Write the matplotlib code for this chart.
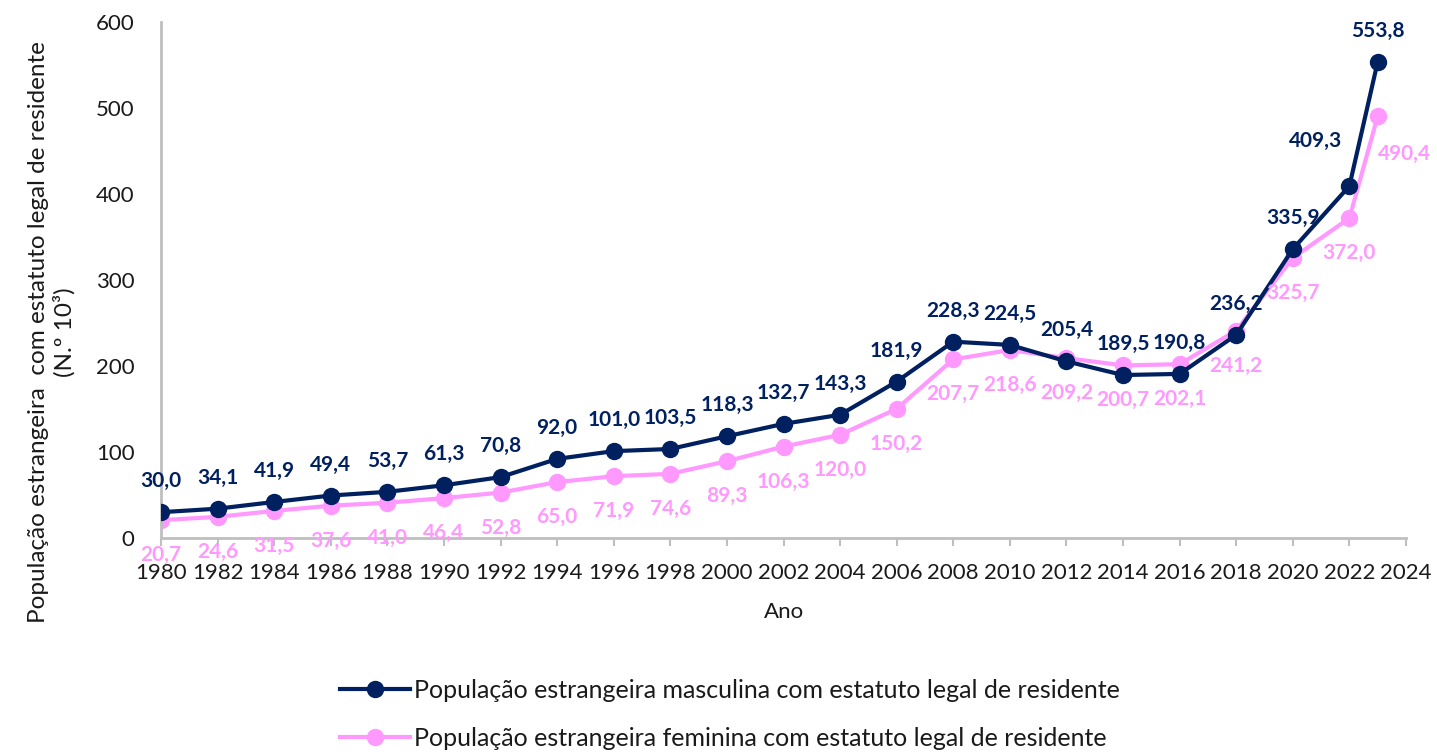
import matplotlib
matplotlib.use("Agg")
import matplotlib.pyplot as plt

# data (thousands)
years = [1980, 1982, 1984, 1986, 1988, 1990, 1992, 1994, 1996, 1998, 2000, 2002,
         2004, 2006, 2008, 2010, 2012, 2014, 2016, 2018, 2020, 2022, 2023]
male = [30.0, 34.1, 41.9, 49.4, 53.7, 61.3, 70.8, 92.0, 101.0, 103.5, 118.3, 132.7,
        143.3, 181.9, 228.3, 224.5, 205.4, 189.5, 190.8, 236.2, 335.9, 409.3, 553.8]
female = [20.7, 24.6, 31.5, 37.6, 41.0, 46.4, 52.8, 65.0, 71.9, 74.6, 89.3, 106.3,
          120.0, 150.2, 207.7, 218.6, 209.2, 200.7, 202.1, 241.2, 325.7, 372.0, 490.4]
x_ticks = list(range(1980, 2025, 2))
y_ticks = [0, 100, 200, 300, 400, 500, 600]

male_name = "População estrangeira masculina com estatuto legal de residente"
female_name = "População estrangeira feminina com estatuto legal de residente"

NAVY = "#002060"
PINK = "#FF99FF"
GREY = "#BFBFBF"
TXT = "#1a1a1a"
FONT = "Lato"

# label offsets in pixels (dx, dy), default above for male / below for female
male_off = {21: (-34, 45)}
female_off = {22: (27, -38)}


def fmt(v):
    return f"{v:.1f}".replace(".", ",")


fig = plt.figure(figsize=(14.37, 7.54), dpi=100)
ax = fig.add_axes([161 / 1437, 1 - 538 / 754, (1406 - 161) / 1437, (538 - 22) / 754])

ax.plot(years, female, color=PINK, lw=3, marker="o", ms=11.5, zorder=2, label=female_name)
ax.plot(years, male, color=NAVY, lw=3, marker="o", ms=11.5, zorder=3, label=male_name)

for i, (yr, v) in enumerate(zip(years, male)):
    dx, dy = male_off.get(i, (0, 31))
    ax.annotate(fmt(v), (yr, v), xytext=(dx, dy), textcoords="offset pixels",
                ha="center", va="center", fontsize=15, fontweight="bold",
                family=FONT, color=NAVY, zorder=5)
for i, (yr, v) in enumerate(zip(years, female)):
    dx, dy = female_off.get(i, (0, -35))
    ax.annotate(fmt(v), (yr, v), xytext=(dx, dy), textcoords="offset pixels",
                ha="center", va="center", fontsize=15, fontweight="bold",
                family=FONT, color=PINK, zorder=4)

ax.set_xlim(1980, 2024)
ax.set_ylim(0, 600)
ax.set_xticks(x_ticks)
ax.set_yticks(y_ticks)
ax.set_xticklabels([str(t) for t in x_ticks], family=FONT, fontsize=16, color=TXT)
ax.set_yticklabels([str(t) for t in y_ticks], family=FONT, fontsize=16, color=TXT)
ax.tick_params(axis="x", direction="out", length=6, width=1.5, color=GREY, pad=12)
ax.tick_params(axis="y", length=0, pad=19)

for side in ["top", "right"]:
    ax.spines[side].set_visible(False)
for side in ["left", "bottom"]:
    ax.spines[side].set_color(GREY)
    ax.spines[side].set_linewidth(2)
ax.patch.set_alpha(0)

ax.set_xlabel("Ano", family=FONT, fontsize=16, color=TXT, labelpad=14)
fig.text(52 / 1437, 1 - 332 / 754,
         "População estrangeira  com estatuto legal de residente\n(N.º 10³)",
         rotation=90, ha="center", va="center", multialignment="center",
         family=FONT, fontsize=17.5, color=TXT, linespacing=1.2)

handles, labels = ax.get_legend_handles_labels()
fig.legend(handles[::-1], labels[::-1], loc="center", bbox_to_anchor=(730 / 1437, 1 - 714 / 754),
           frameon=False, prop={"family": FONT, "size": 18}, handlelength=2.8,
           handletextpad=0.15, labelspacing=1.0, labelcolor=TXT)

fig.savefig("out.png", dpi=100)
